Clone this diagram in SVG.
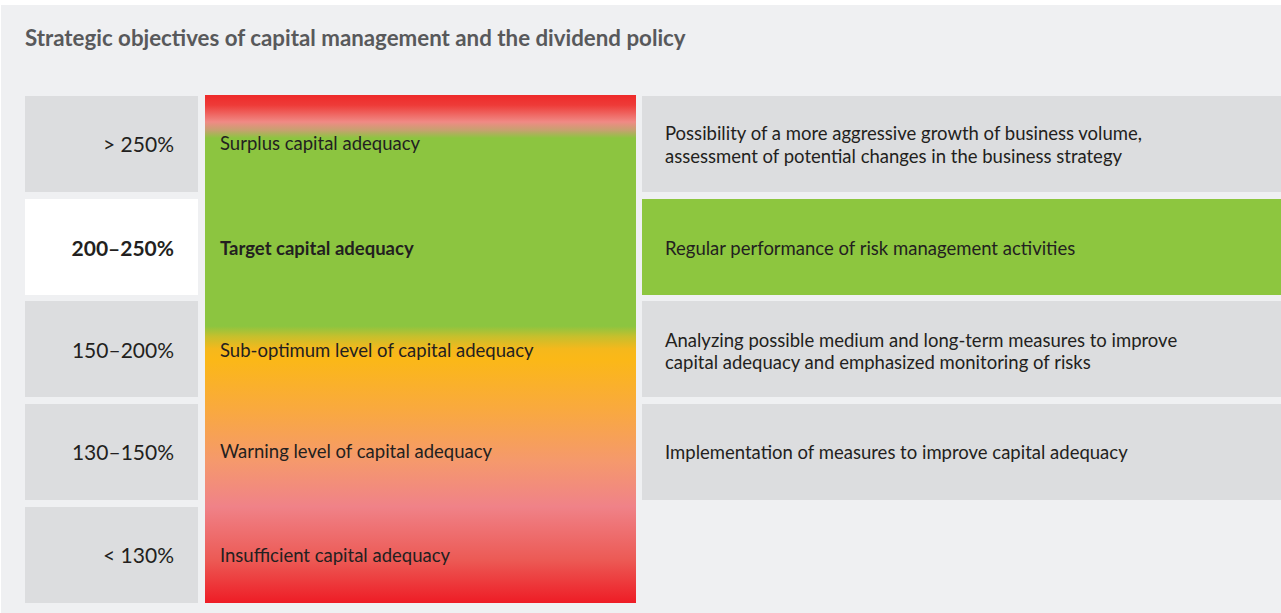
<svg xmlns="http://www.w3.org/2000/svg" width="1281" height="613" viewBox="0 0 1281 613">
  <defs>
    <linearGradient id="adequacyScale" x1="0" y1="0" x2="0" y2="1">
      <stop offset="0" stop-color="#ee2a2a"/>
      <stop offset="0.02" stop-color="#ee3b38"/>
      <stop offset="0.053" stop-color="#f08a85"/>
      <stop offset="0.07" stop-color="#c4a36e"/>
      <stop offset="0.085" stop-color="#8cc540"/>
      <stop offset="0.455" stop-color="#8cc540"/>
      <stop offset="0.476" stop-color="#c8bf2c"/>
      <stop offset="0.5" stop-color="#f5b81c"/>
      <stop offset="0.52" stop-color="#fbb817"/>
      <stop offset="0.62" stop-color="#f9a93f"/>
      <stop offset="0.72" stop-color="#f5996c"/>
      <stop offset="0.81" stop-color="#f08288"/>
      <stop offset="0.915" stop-color="#ec5a55"/>
      <stop offset="1" stop-color="#ee1c25"/>
    </linearGradient>
    <style>
      .panel { fill: #eff0f2; }
      .box { fill: #dcdddf; }
      .box-hi { fill: #ffffff; }
      .box-green { fill: #8dc63f; }
      .title { font-family: Lato, "Liberation Sans", sans-serif; font-weight: 700; font-size: 22.3px; fill: #58595b; }
      .lbl { font-family: Lato, "Liberation Sans", sans-serif; font-size: 18.5px; fill: #231f20; }
      .num { font-family: Lato, "Liberation Sans", sans-serif; font-size: 21px; fill: #231f20; text-anchor: end; }
      .b { font-weight: 700; }
    </style>
  </defs>

  <rect x="0" y="0" width="1281" height="613" fill="#ffffff"/>
  <rect class="panel" x="1" y="5" width="1280" height="608"/>

  <text class="title" x="25" y="46">Strategic objectives of capital management and the dividend policy</text>

  <!-- capital adequacy ranges -->
  <g id="range-over-250">
    <rect class="box" x="25" y="96" width="173" height="96"/>
    <text class="num" x="174" y="152">&gt; 250%</text>
  </g>
  <g id="range-200-250">
    <rect class="box-hi" x="25" y="199" width="173" height="96"/>
    <text class="num b" x="174" y="256">200–250%</text>
  </g>
  <g id="range-150-200">
    <rect class="box" x="25" y="301" width="173" height="96"/>
    <text class="num" x="174" y="358">150–200%</text>
  </g>
  <g id="range-130-150">
    <rect class="box" x="25" y="404" width="173" height="96"/>
    <text class="num" x="174" y="460">130–150%</text>
  </g>
  <g id="range-under-130">
    <rect class="box" x="25" y="507" width="173" height="96"/>
    <text class="num" x="174" y="563">&lt; 130%</text>
  </g>

  <!-- colour scale with level names -->
  <g id="scale">
    <rect x="205" y="95" width="431" height="508" fill="url(#adequacyScale)"/>
    <text class="lbl" x="220" y="150">Surplus capital adequacy</text>
    <text class="lbl b" x="220" y="255">Target capital adequacy</text>
    <text class="lbl" x="220" y="357">Sub-optimum level of capital adequacy</text>
    <text class="lbl" x="220" y="458">Warning level of capital adequacy</text>
    <text class="lbl" x="220" y="562">Insufficient capital adequacy</text>
  </g>

  <!-- measures per level -->
  <g id="measure-surplus">
    <rect class="box" x="642" y="96" width="639" height="96"/>
    <text class="lbl" x="665" y="140">Possibility of a more aggressive growth of business volume,</text>
    <text class="lbl" x="665" y="163">assessment of potential changes in the business strategy</text>
  </g>
  <g id="measure-target">
    <rect class="box-green" x="642" y="199" width="639" height="96"/>
    <text class="lbl" x="665" y="255">Regular performance of risk management activities</text>
  </g>
  <g id="measure-suboptimum">
    <rect class="box" x="642" y="301" width="639" height="96"/>
    <text class="lbl" x="665" y="347">Analyzing possible medium and long-term measures to improve</text>
    <text class="lbl" x="665" y="369">capital adequacy and emphasized monitoring of risks</text>
  </g>
  <g id="measure-warning">
    <rect class="box" x="642" y="404" width="639" height="96"/>
    <text class="lbl" x="665" y="459">Implementation of measures to improve capital adequacy</text>
  </g>
</svg>
